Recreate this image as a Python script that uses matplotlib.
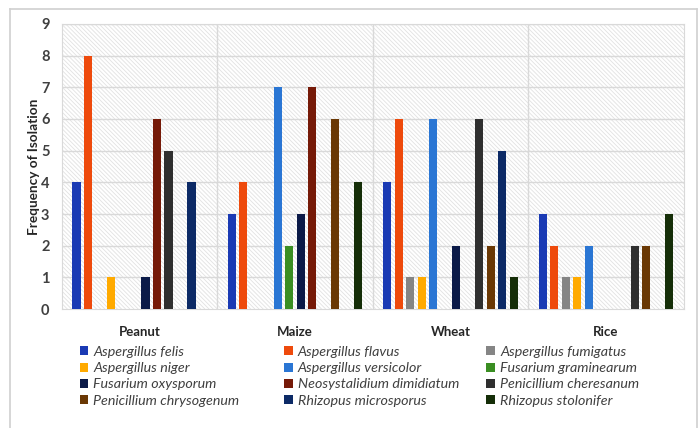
import matplotlib.pyplot as plt
import numpy as np
from matplotlib.patches import Rectangle
from matplotlib.lines import Line2D

crops = ["Peanut", "Maize", "Wheat", "Rice"]
species = [
    "Aspergillus felis", "Aspergillus flavus", "Aspergillus fumigatus",
    "Aspergillus niger", "Aspergillus versicolor", "Fusarium graminearum",
    "Fusarium oxysporum", "Neosystalidium dimidiatum", "Penicillium cheresanum",
    "Penicillium chrysogenum", "Rhizopus microsporus", "Rhizopus stolonifer",
]
colors = [
    "#1a3ab4", "#ee4a0c", "#858585", "#ffaa00", "#2a76d4", "#3a8e22",
    "#0b1a48", "#761a08", "#2f2f2f", "#6a3804", "#0c2a66", "#152e08",
]
# one list per crop, in species order
peanut = [4, 8, 0, 1, 0, 0, 1, 6, 5, 0, 4, 0]
maize = [3, 4, 0, 0, 7, 2, 3, 7, 0, 6, 0, 4]
wheat = [4, 6, 1, 1, 6, 0, 2, 0, 6, 2, 5, 1]
rice = [3, 2, 1, 1, 2, 0, 0, 0, 2, 2, 0, 3]
values = np.array([peanut, maize, wheat, rice]).T

plt.rcParams["font.family"] = ["Lato", "DejaVu Sans"]
plt.rcParams["hatch.linewidth"] = 0.6

fig = plt.figure(figsize=(7, 4.28), dpi=100)
ax = fig.add_axes([0.0886, 0.278, 0.888, 0.666])

# hatched plot area background
ax.add_patch(Rectangle((0, 0), 1, 1, transform=ax.transAxes, facecolor="white",
                       edgecolor="#e2e2e2", hatch="\\" * 8, lw=0, zorder=0))

x = np.arange(len(crops))
slot = 0.074
bw = 0.052
for i, sp in enumerate(species):
    off = (i - 5.5) * slot
    ax.bar(x + off, values[i], bw, color=colors[i], label=sp, zorder=3)

ax.set_xlim(-0.5, 3.5)
ax.set_ylim(0, 9)
ax.set_yticks(range(10))
for y in range(1, 10):
    ax.axhline(y, color="#d9d9d9", lw=1, zorder=1)
for xb in [0.5, 1.5, 2.5]:
    ax.axvline(xb, color="#d9d9d9", lw=1, zorder=1)
for s in ax.spines.values():
    s.set_color("#d9d9d9")

ax.set_xticks(x)
ax.set_xticklabels(crops, fontweight="bold", fontsize=9.5, color="#262626")
ax.tick_params(axis="x", length=0, pad=12)
ax.tick_params(axis="y", length=0, pad=9, labelsize=10.5, labelcolor="#404040")
for t in ax.get_yticklabels():
    t.set_fontweight("bold")
ax.set_ylabel("Frequency of Isolation", fontweight="bold", fontsize=9.8,
              color="#262626", labelpad=1)

# legend, three columns placed like the original
handles, labels = ax.get_legend_handles_labels()
col_x = [0.1136, 0.406, 0.695]
for c in range(3):
    idx = [c, c + 3, c + 6, c + 9]
    leg = fig.legend([handles[k] for k in idx], [labels[k] for k in idx],
                     loc="upper left", bbox_to_anchor=(col_x[c], 0.192),
                     frameon=False, fontsize=10.3, handlelength=0.6,
                     handleheight=0.6, handletextpad=0.35, labelspacing=0.3,
                     borderpad=0, borderaxespad=0)
    for t in leg.get_texts():
        t.set_fontstyle("italic")
        t.set_color("#404040")

# outer chart border
for xs, ys in [([0.0143, 0.0143], [0, 0.979]), ([0.0143, 0.996], [0.979, 0.979]),
               ([0.996, 0.996], [0.979, 0])]:
    fig.add_artist(Line2D(xs, ys, color="#d0d0d0", lw=1.2))

fig.savefig("out.png", dpi=100)
